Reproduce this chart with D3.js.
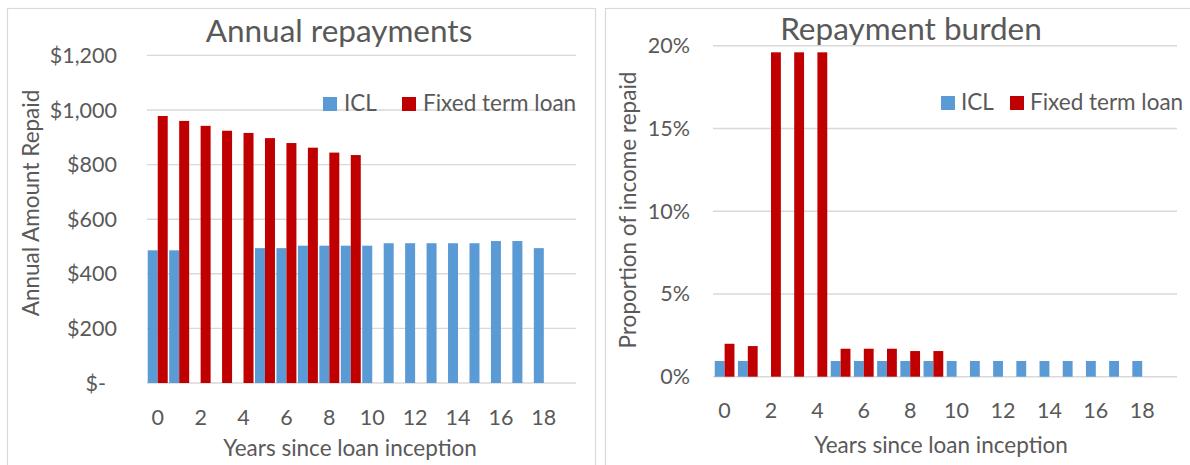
<!DOCTYPE html>
<html>
<head>
<meta charset="utf-8">
<script src="https://cdn.jsdelivr.net/npm/d3@7"></script>
<style>
  body { margin: 0; background: #fff; }
  svg { display: block; }
  text { font-family: Lato, "Open Sans", sans-serif; fill: #595959; }
</style>
</head>
<body>
<svg id="chart" width="1190" height="465"></svg>
<script>
// years since inception (category 19 is empty in the source chart)
const years = [0, 1, 2, 3, 4, 5, 6, 7, 8, 9, 10, 11, 12, 13, 14, 15, 16, 17, 18, 19];
const yearLabels = ["0", "2", "4", "6", "8", "10", "12", "14", "16", "18"];

// annual repayments, $
const iclAmount = [486, 486, 0, 0, 0, 494, 494, 503, 503, 503, 503, 512, 512, 512, 512, 512, 520, 520, 494, null];
const fixedAmount = [978, 960, 942, 924, 916, 897, 879, 862, 844, 835, null, null, null, null, null, null, null, null, null, null];

// repayment burden, share of income
const iclShare = [0.0095, 0.0095, 0, 0, 0, 0.0095, 0.0095, 0.0095, 0.0095, 0.0095, 0.0095, 0.0095, 0.0095, 0.0095, 0.0095, 0.0095, 0.0095, 0.0095, 0.0095, null];
const fixedShare = [0.0199, 0.0185, 0.196, 0.196, 0.196, 0.0169, 0.0169, 0.0169, 0.0155, 0.0155, null, null, null, null, null, null, null, null, null, null];

const amountTicks = [0, 200, 400, 600, 800, 1000, 1200];
const shareTicks = [0, 0.05, 0.10, 0.15, 0.20];

const BLUE = "#5B9BD5", RED = "#C00000", GRID = "#D9D9D9";

const svg = d3.select("#chart");

// panel frames
svg.append("rect").attr("x", 7.5).attr("y", 8.5).attr("width", 588).attr("height", 470)
    .attr("fill", "none").attr("stroke", GRID).attr("stroke-width", 1.2);
svg.append("rect").attr("x", 605.5).attr("y", 8.5).attr("width", 600).attr("height", 470)
    .attr("fill", "none").attr("stroke", GRID).attr("stroke-width", 1.2);

function drawChart(opt) {
    const g = svg.append("g");

    const x = d3.scaleBand().domain(years).range([opt.left, opt.right]);
    const y = d3.scaleLinear().domain([0, opt.max]).range([opt.bottom, opt.top]);
    const step = x.bandwidth();
    const barW = step * (1 - opt.gap) / 2;
    const off = step * opt.gap / 2;

    // gridlines
    g.selectAll("line.grid")
        .data(opt.ticks)
        .enter()
        .append("line")
        .attr("x1", opt.left)
        .attr("x2", opt.right)
        .attr("y1", d => y(d))
        .attr("y2", d => y(d))
        .attr("stroke", GRID)
        .attr("stroke-width", 1.4);

    // y tick labels
    g.selectAll("text.ytick")
        .data(opt.ticks)
        .enter()
        .append("text")
        .attr("x", opt.left - opt.labelGap)
        .attr("y", d => y(d))
        .attr("dx", d => (d === 0 && opt.zeroShift) ? -opt.zeroShift : 0)
        .attr("dy", "0.35em")
        .attr("text-anchor", "end")
        .style("font-size", "21.5px")
        .text(opt.format);

    // bars
    const series = [[opt.blue, BLUE, 0], [opt.red, RED, 1]];
    for (let s = 0; s < series.length; s++) {
        const values = series[s][0];
        g.selectAll("rect.s" + s)
            .data(years.filter(d => values[d] !== null && values[d] > 0))
            .enter()
            .append("rect")
            .attr("x", d => x(d) + off + series[s][2] * barW)
            .attr("y", d => y(values[d]))
            .attr("width", barW)
            .attr("height", d => opt.bottom - y(values[d]))
            .attr("fill", series[s][1]);
    }

    // x tick labels
    g.selectAll("text.xtick")
        .data(yearLabels)
        .enter()
        .append("text")
        .attr("x", d => x(+d) + step / 2)
        .attr("y", opt.xLabelY)
        .attr("dy", "0.35em")
        .attr("text-anchor", "middle")
        .style("font-size", "21.5px")
        .text(d => d);

    // titles
    g.append("text")
        .attr("x", opt.titleX)
        .attr("y", opt.titleY)
        .attr("text-anchor", "middle")
        .style("font-size", "31.5px")
        .text(opt.title);

    g.append("text")
        .attr("x", opt.xTitleX)
        .attr("y", opt.xTitleY)
        .attr("dy", "0.35em")
        .attr("text-anchor", "middle")
        .style("font-size", "22.5px")
        .text("Years since loan inception");

    g.append("text")
        .attr("transform", `translate(${opt.yTitleX},${opt.yTitleY}) rotate(-90)`)
        .attr("text-anchor", "middle")
        .style("font-size", "22.5px")
        .text(opt.yTitle);

    // legend
    const lg = g.append("g").attr("transform", `translate(${opt.legendX},${opt.legendY})`);
    const L = opt.legendPos;
    lg.append("rect").attr("x", 0).attr("y", -14).attr("width", 14).attr("height", 14).attr("fill", BLUE);
    lg.append("text").attr("x", L[0]).attr("y", 0).style("font-size", "22.5px").text("ICL");
    lg.append("rect").attr("x", L[1]).attr("y", -14).attr("width", 14).attr("height", 14).attr("fill", RED);
    lg.append("text").attr("x", L[2]).attr("y", 0).style("font-size", "22.5px").text("Fixed term loan");
}

drawChart({
    left: 147, right: 576, top: 55.4, bottom: 383, max: 1200, gap: 0.068,
    ticks: amountTicks,
    format: d => d === 0 ? "$-" : d3.format("$,")(d),
    zeroShift: 11,
    labelGap: 30,
    blue: iclAmount, red: fixedAmount,
    xLabelY: 417,
    title: "Annual repayments", titleX: 339, titleY: 42,
    xTitleX: 350, xTitleY: 448,
    yTitle: "Annual Amount Repaid", yTitleX: 39, yTitleY: 203,
    legendX: 323, legendY: 111, legendPos: [21, 79, 100]
});

drawChart({
    left: 713, right: 1177, top: 45.7, bottom: 376.7, max: 0.20, gap: 0.15,
    ticks: shareTicks,
    format: d3.format(".0%"),
    zeroShift: 0,
    labelGap: 23,
    blue: iclShare, red: fixedShare,
    xLabelY: 410,
    title: "Repayment burden", titleX: 911, titleY: 40,
    xTitleX: 941, xTitleY: 445,
    yTitle: "Proportion of income repaid", yTitleX: 636, yTitleY: 210,
    legendX: 941, legendY: 110, legendPos: [20, 69, 89]
});
</script>
</body>
</html>
